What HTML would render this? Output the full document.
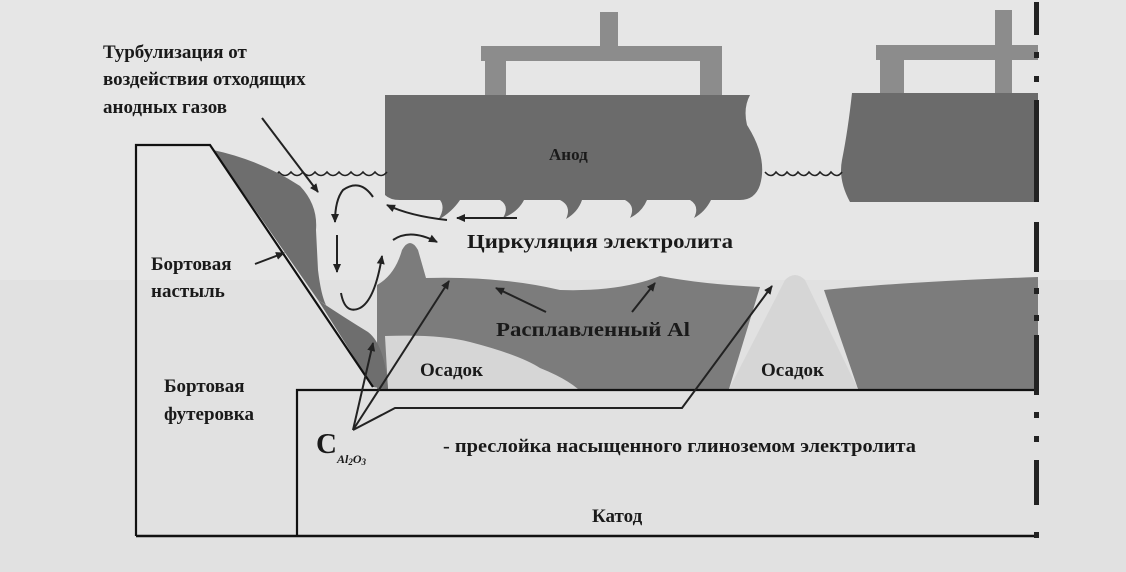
<!DOCTYPE html>
<html><head><meta charset="utf-8"><style>
html,body{margin:0;padding:0;background:#e6e6e6;}
svg{display:block;}
text{font-family:"Liberation Serif",serif;font-weight:bold;fill:#1a1a1a;}
</style></head><body>
<svg width="1126" height="572" viewBox="0 0 1126 572" xmlns="http://www.w3.org/2000/svg">
<defs>
<marker id="ah" markerWidth="10" markerHeight="10" refX="8" refY="5" orient="auto" markerUnits="userSpaceOnUse">
<path d="M0,1 L9,5 L0,9 Z" fill="#222"/></marker>
</defs>
<rect width="1126" height="572" fill="#e6e6e6"/>
<rect x="0" y="280" width="1126" height="292" fill="#e1e1e1"/>

<g fill="#8c8c8c">
<rect x="600" y="12" width="18" height="40"/>
<rect x="481" y="46" width="241" height="15"/>
<rect x="485" y="60" width="21" height="36"/>
<rect x="700" y="60" width="22" height="36"/>
<rect x="995" y="10" width="17" height="40"/>
<rect x="876" y="45" width="162" height="15"/>
<rect x="880" y="60" width="24" height="34"/>
<rect x="995" y="60" width="17" height="34"/>
</g>

<path d="M385,95 L750,95 Q743,108 747,125 Q768,158 760,185 Q755,200 740,200 L711,200 Q705,212 694,218 Q700,206 690,200 L647,200 Q642,212 630,218 Q636,206 625,200 L582,200 Q578,212 566,219 Q572,206 560,200 L524,200 Q518,212 503,218 Q510,206 500,200 L460,200 Q452,212 438,220 Q446,208 440,200 L400,200 Q390,200 385,195 Z" fill="#6b6b6b"/>
<path d="M852,93 L1038,93 L1038,202 L850,202 Q838,180 842,160 Q848,130 852,93 Z" fill="#6b6b6b"/>

<path d="M267,172 q6,7 12,0 q6,7 12,0 q6,7 12,0 q6,7 12,0 q6,7 12,0 q6,7 12,0 q6,7 12,0 q6,7 12,0 q6,7 12,0 q6,7 12,0" fill="none" stroke="#222" stroke-width="1.6"/>
<path d="M765,172 q6,7 11,0 q6,7 11,0 q6,7 11,0 q6,7 11,0 q6,7 11,0 q6,7 11,0 q6,7 11,0" fill="none" stroke="#222" stroke-width="1.6"/>

<path d="M377,389 L377,285 Q395,275 402,250 Q410,236 418,250 L426,278 Q500,276 560,290 Q620,292 660,276 Q700,284 760,287 L729,389 Z" fill="#7c7c7c"/>
<path d="M858,389 L824,290 Q900,282 1038,277 L1038,389 Z" fill="#7c7c7c"/>
<path d="M385,336 Q440,334 470,342 Q520,355 540,368 Q565,378 578,389 L388,389 Z" fill="#d6d6d6"/>
<path d="M729,389 L785,280 Q795,270 805,280 L858,389 Z" fill="#d6d6d6"/>

<path d="M210,145 L213,150 Q260,160 300,186 Q318,205 316,230 L318,270 Q321,295 326,305 L318,300 Z" fill="#6e6e6e"/>
<path d="M318,300 Q345,318 368,332 Q385,345 388,389 L373,387 Z" fill="#6e6e6e"/>

<path d="M136,536 L136,145 L210,145 L373,387" fill="none" stroke="#111" stroke-width="2.2"/>
<path d="M136,536 L1038,536" stroke="#111" stroke-width="2.5"/>
<path d="M297,536 L297,390 L1038,390" fill="none" stroke="#111" stroke-width="2.2"/>

<g fill="#222">
<rect x="1034" y="2" width="5" height="33"/><rect x="1034" y="52" width="5" height="6"/><rect x="1034" y="76" width="5" height="6"/>
<rect x="1034" y="100" width="5" height="102"/><rect x="1034" y="222" width="5" height="50"/>
<rect x="1034" y="288" width="5" height="6"/><rect x="1034" y="315" width="5" height="6"/>
<rect x="1034" y="335" width="5" height="60"/><rect x="1034" y="412" width="5" height="6"/><rect x="1034" y="436" width="5" height="6"/>
<rect x="1034" y="460" width="5" height="45"/><rect x="1034" y="532" width="5" height="6"/>
</g>

<g fill="none" stroke="#222" stroke-width="2" marker-end="url(#ah)">
<path d="M262,118 L318,192"/>
<path d="M517,218 L457,218"/>
<path d="M447,220 Q410,216 387,205"/>
<path d="M373,197 Q360,178 343,190 Q335,200 335,222"/>
<path d="M337,235 L337,272"/>
<path d="M341,293 Q345,315 360,308 Q375,300 382,256"/>
<path d="M393,240 Q410,228 437,242"/>
<path d="M255,264 L284,253"/>
<path d="M546,312 L496,288"/>
<path d="M632,312 L655,283"/>
<path d="M353,430 L373,343"/>
<path d="M353,430 L449,281"/>
<path d="M353,430 L395,408 L682,408 L772,286"/>
</g>

<text x="103" y="58" font-size="19">Турбулизация от</text>
<text x="103" y="85" font-size="19">воздействия отходящих</text>
<text x="103" y="113" font-size="19">анодных газов</text>
<text x="549" y="160" font-size="17">Анод</text>
<text x="467" y="248" font-size="20" textLength="266" lengthAdjust="spacingAndGlyphs">Циркуляция электролита</text>
<text x="151" y="270" font-size="19">Бортовая</text>
<text x="151" y="297" font-size="19">настыль</text>
<text x="496" y="336" font-size="20" textLength="194" lengthAdjust="spacingAndGlyphs">Расплавленный Al</text>
<text x="420" y="376" font-size="19">Осадок</text>
<text x="761" y="376" font-size="19">Осадок</text>
<text x="164" y="392" font-size="19">Бортовая</text>
<text x="164" y="420" font-size="19">футеровка</text>
<text x="316" y="453" font-size="29">C</text>
<text x="337" y="463" font-size="12" font-style="italic">Al<tspan font-size="9" dy="2">2</tspan><tspan dy="-2">O</tspan><tspan font-size="9" dy="2">3</tspan></text>
<text x="443" y="452" font-size="19" textLength="473" lengthAdjust="spacingAndGlyphs">- преслойка насыщенного глиноземом электролита</text>
<text x="592" y="522" font-size="19">Катод</text>
</svg>
</body></html>
